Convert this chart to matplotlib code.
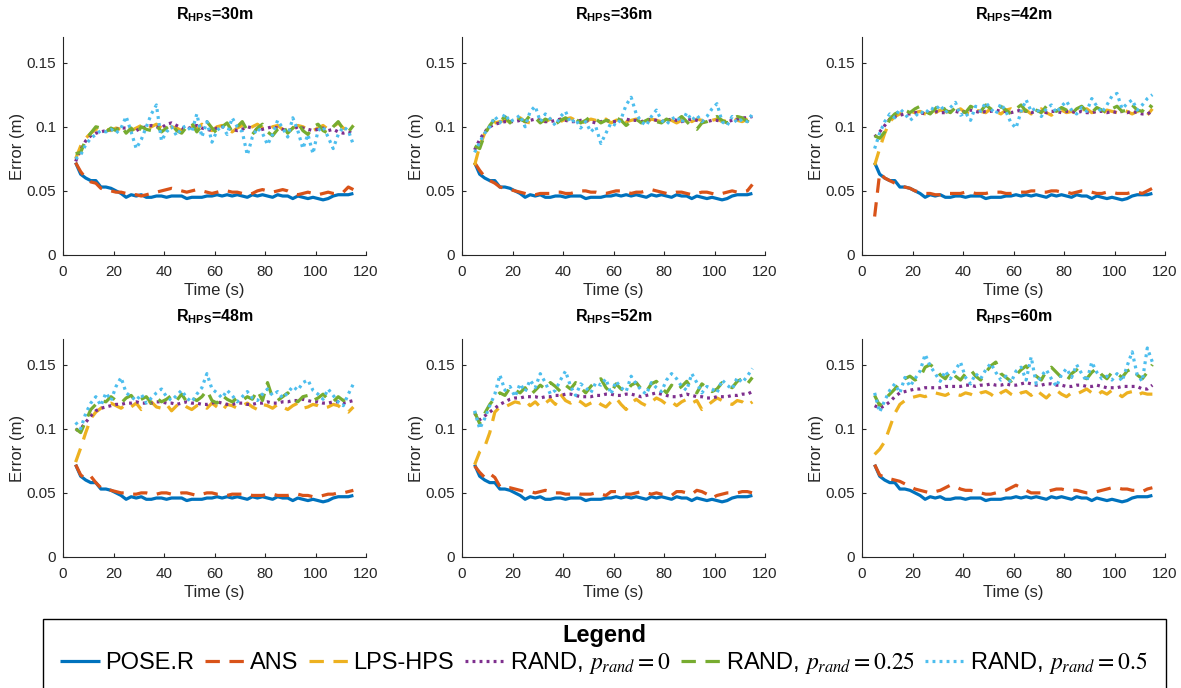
import numpy as np
import matplotlib
matplotlib.use("Agg")
import matplotlib.pyplot as plt
from matplotlib.font_manager import FontProperties
from matplotlib.patches import Rectangle

plt.rcParams["font.family"] = ["Liberation Sans", "DejaVu Sans"]
plt.rcParams["mathtext.fontset"] = "custom"
plt.rcParams["mathtext.bf"] = "Liberation Sans:bold"
plt.rcParams["mathtext.rm"] = "Liberation Sans"

# Sample times (s)
time_s = np.arange(5, 116, 2)

radii = [30, 36, 42, 48, 52, 60]
x_ticks = [0, 20, 40, 60, 80, 100, 120]
y_ticks = [0, 0.05, 0.1, 0.15]
y_tick_labels = ["0", "0.05", "0.1", "0.15"]
series_labels = ["POSE.R", "ANS", "LPS-HPS",
                 r"RAND, $p_{rand}=0$", r"RAND, $p_{rand}=0.25$", r"RAND, $p_{rand}=0.5$"]

# POSE.R error (identical in every scenario)
pose_r = [0.072, 0.063, 0.060, 0.058, 0.058, 0.053, 0.053, 0.052,
          0.050, 0.048, 0.045, 0.047, 0.046, 0.047, 0.045, 0.045,
          0.046, 0.046, 0.045, 0.046, 0.046, 0.046, 0.044, 0.045,
          0.045, 0.045, 0.046, 0.046, 0.047, 0.046, 0.047, 0.046,
          0.047, 0.046, 0.045, 0.047, 0.046, 0.047, 0.046, 0.045,
          0.047, 0.046, 0.046, 0.044, 0.046, 0.045, 0.044, 0.045,
          0.044, 0.043, 0.044, 0.046, 0.047, 0.047, 0.047, 0.048]

# ---- R_HPS = 30 m ----
ans_30 = [0.072, 0.065, 0.060, 0.057, 0.056, 0.052, 0.051, 0.050,
          0.049, 0.049, 0.048, 0.047, 0.047, 0.046, 0.047, 0.048,
          0.049, 0.050, 0.051, 0.052, 0.051, 0.050, 0.049, 0.050,
          0.051, 0.050, 0.049, 0.048, 0.049, 0.050, 0.050, 0.049,
          0.049, 0.048, 0.047, 0.048, 0.050, 0.051, 0.050, 0.049,
          0.050, 0.051, 0.050, 0.048, 0.047, 0.048, 0.049, 0.048,
          0.047, 0.048, 0.049, 0.048, 0.048, 0.049, 0.053, 0.051]
lps_30 = [0.075, 0.085, 0.091, 0.095, 0.098, 0.099, 0.098, 0.097,
          0.099, 0.098, 0.100, 0.097, 0.099, 0.101, 0.098, 0.100,
          0.102, 0.099, 0.098, 0.100, 0.099, 0.097, 0.101, 0.100,
          0.098, 0.102, 0.099, 0.097, 0.100, 0.101, 0.098, 0.096,
          0.099, 0.101, 0.098, 0.100, 0.102, 0.099, 0.097, 0.100,
          0.101, 0.098, 0.096, 0.099, 0.101, 0.100, 0.098, 0.097,
          0.099, 0.101, 0.098, 0.100, 0.103, 0.099, 0.097, 0.101]
rand0_30 = [0.073, 0.082, 0.089, 0.093, 0.095, 0.096, 0.097, 0.098,
            0.098, 0.099, 0.099, 0.098, 0.097, 0.099, 0.100, 0.101,
            0.100, 0.099, 0.102, 0.103, 0.101, 0.099, 0.098, 0.100,
            0.101, 0.099, 0.098, 0.097, 0.099, 0.100, 0.099, 0.098,
            0.097, 0.098, 0.100, 0.099, 0.097, 0.098, 0.099, 0.100,
            0.099, 0.098, 0.097, 0.098, 0.100, 0.099, 0.098, 0.097,
            0.098, 0.099, 0.097, 0.098, 0.096, 0.095, 0.096, 0.095]
rand25_30 = [0.079, 0.080, 0.090, 0.095, 0.100, 0.099, 0.096, 0.099,
             0.097, 0.101, 0.095, 0.099, 0.094, 0.100, 0.098, 0.097,
             0.101, 0.096, 0.099, 0.102, 0.097, 0.095, 0.100, 0.103,
             0.096, 0.101, 0.104, 0.099, 0.095, 0.100, 0.103, 0.096,
             0.100, 0.104, 0.097, 0.094, 0.099, 0.102, 0.096, 0.093,
             0.098, 0.101, 0.095, 0.099, 0.103, 0.097, 0.094, 0.100,
             0.102, 0.097, 0.095, 0.100, 0.104, 0.098, 0.096, 0.101]
rand50_30 = [0.075, 0.078, 0.086, 0.091, 0.094, 0.097, 0.096, 0.098,
             0.095, 0.099, 0.108, 0.096, 0.083, 0.090, 0.100, 0.110,
             0.117, 0.089, 0.096, 0.100, 0.093, 0.099, 0.101, 0.096,
             0.110, 0.092, 0.104, 0.088, 0.097, 0.101, 0.094, 0.107,
             0.100, 0.096, 0.078, 0.092, 0.099, 0.095, 0.086, 0.094,
             0.105, 0.099, 0.092, 0.107, 0.097, 0.083, 0.094, 0.079,
             0.097, 0.100, 0.092, 0.083, 0.094, 0.100, 0.097, 0.086]

# ---- R_HPS = 36 m ----
ans_36 = [0.072, 0.066, 0.061, 0.058, 0.056, 0.053, 0.052, 0.051,
          0.050, 0.049, 0.048, 0.047, 0.047, 0.048, 0.048, 0.048,
          0.049, 0.049, 0.048, 0.048, 0.049, 0.050, 0.050, 0.049,
          0.049, 0.048, 0.048, 0.049, 0.050, 0.050, 0.049, 0.048,
          0.049, 0.049, 0.050, 0.051, 0.050, 0.049, 0.048, 0.048,
          0.049, 0.049, 0.048, 0.047, 0.048, 0.049, 0.049, 0.048,
          0.047, 0.048, 0.049, 0.050, 0.049, 0.049, 0.050, 0.055]
lps_36 = [0.070, 0.085, 0.095, 0.101, 0.103, 0.104, 0.105, 0.104,
          0.105, 0.107, 0.104, 0.103, 0.106, 0.105, 0.104, 0.106,
          0.105, 0.104, 0.106, 0.107, 0.105, 0.103, 0.104, 0.106,
          0.105, 0.104, 0.106, 0.103, 0.105, 0.107, 0.104, 0.105,
          0.106, 0.104, 0.103, 0.106, 0.105, 0.104, 0.106, 0.105,
          0.103, 0.105, 0.107, 0.104, 0.106, 0.105, 0.103, 0.105,
          0.106, 0.104, 0.105, 0.107, 0.105, 0.104, 0.106, 0.108]
rand0_36 = [0.082, 0.090, 0.096, 0.100, 0.102, 0.103, 0.104, 0.104,
            0.104, 0.105, 0.104, 0.105, 0.106, 0.105, 0.104, 0.104,
            0.105, 0.106, 0.105, 0.104, 0.104, 0.105, 0.105, 0.104,
            0.103, 0.104, 0.105, 0.104, 0.104, 0.105, 0.106, 0.105,
            0.105, 0.104, 0.105, 0.106, 0.105, 0.104, 0.105, 0.106,
            0.105, 0.104, 0.105, 0.106, 0.105, 0.104, 0.104, 0.105,
            0.105, 0.104, 0.104, 0.105, 0.106, 0.107, 0.107, 0.108]
rand25_36 = [0.085, 0.083, 0.094, 0.101, 0.106, 0.104, 0.108, 0.103,
             0.108, 0.106, 0.104, 0.109, 0.107, 0.103, 0.106, 0.104,
             0.102, 0.105, 0.107, 0.104, 0.106, 0.103, 0.105, 0.108,
             0.106, 0.103, 0.105, 0.104, 0.107, 0.105, 0.101, 0.104,
             0.106, 0.103, 0.105, 0.107, 0.104, 0.103, 0.106, 0.104,
             0.105, 0.108, 0.104, 0.100, 0.098, 0.103, 0.104, 0.106,
             0.108, 0.105, 0.103, 0.106, 0.108, 0.107, 0.104, 0.112]
rand50_36 = [0.080, 0.088, 0.095, 0.100, 0.108, 0.103, 0.110, 0.104,
             0.106, 0.109, 0.100, 0.112, 0.116, 0.104, 0.110, 0.106,
             0.101, 0.108, 0.112, 0.103, 0.106, 0.099, 0.104, 0.096,
             0.100, 0.087, 0.095, 0.103, 0.101, 0.106, 0.117, 0.123,
             0.110, 0.104, 0.101, 0.108, 0.113, 0.105, 0.102, 0.106,
             0.108, 0.103, 0.111, 0.105, 0.109, 0.104, 0.108, 0.114,
             0.118, 0.104, 0.101, 0.108, 0.103, 0.106, 0.104, 0.110]

# ---- R_HPS = 42 m ----
ans_42 = [0.030, 0.064, 0.060, 0.058, 0.056, 0.054, 0.053, 0.052,
          0.050, 0.049, 0.048, 0.048, 0.047, 0.047, 0.048, 0.048,
          0.048, 0.048, 0.049, 0.049, 0.048, 0.048, 0.048, 0.049,
          0.049, 0.049, 0.048, 0.048, 0.049, 0.049, 0.049, 0.050,
          0.050, 0.049, 0.049, 0.050, 0.050, 0.049, 0.049, 0.048,
          0.049, 0.050, 0.050, 0.049, 0.048, 0.048, 0.049, 0.049,
          0.048, 0.048, 0.048, 0.049, 0.049, 0.048, 0.050, 0.052]
lps_42 = [0.070, 0.083, 0.095, 0.104, 0.108, 0.110, 0.111, 0.112,
          0.111, 0.112, 0.110, 0.109, 0.111, 0.113, 0.112, 0.110,
          0.112, 0.114, 0.111, 0.110, 0.113, 0.112, 0.111, 0.114,
          0.112, 0.110, 0.113, 0.114, 0.111, 0.112, 0.113, 0.110,
          0.112, 0.114, 0.111, 0.109, 0.112, 0.113, 0.111, 0.112,
          0.110, 0.113, 0.114, 0.111, 0.112, 0.110, 0.113, 0.112,
          0.111, 0.113, 0.112, 0.110, 0.112, 0.111, 0.109, 0.114]
rand0_42 = [0.092, 0.096, 0.101, 0.106, 0.108, 0.109, 0.110, 0.110,
            0.111, 0.111, 0.110, 0.111, 0.112, 0.111, 0.111, 0.112,
            0.112, 0.111, 0.112, 0.113, 0.112, 0.111, 0.112, 0.112,
            0.113, 0.112, 0.112, 0.111, 0.112, 0.113, 0.112, 0.111,
            0.112, 0.112, 0.111, 0.112, 0.112, 0.111, 0.112, 0.112,
            0.111, 0.112, 0.111, 0.111, 0.112, 0.112, 0.111, 0.112,
            0.111, 0.112, 0.111, 0.112, 0.111, 0.110, 0.110, 0.112]
rand25_42 = [0.093, 0.091, 0.096, 0.106, 0.110, 0.112, 0.113, 0.111,
             0.114, 0.116, 0.112, 0.110, 0.114, 0.118, 0.113, 0.111,
             0.115, 0.113, 0.111, 0.116, 0.114, 0.112, 0.117, 0.114,
             0.112, 0.116, 0.113, 0.110, 0.114, 0.117, 0.112, 0.115,
             0.113, 0.111, 0.116, 0.114, 0.112, 0.115, 0.113, 0.110,
             0.114, 0.116, 0.112, 0.111, 0.115, 0.113, 0.111, 0.114,
             0.116, 0.112, 0.113, 0.117, 0.113, 0.112, 0.118, 0.115]
rand50_42 = [0.083, 0.095, 0.104, 0.110, 0.107, 0.114, 0.110, 0.105,
             0.108, 0.112, 0.110, 0.115, 0.113, 0.117, 0.111, 0.115,
             0.119, 0.109, 0.111, 0.105, 0.116, 0.112, 0.119, 0.114,
             0.110, 0.118, 0.112, 0.103, 0.099, 0.112, 0.121, 0.112,
             0.115, 0.108, 0.114, 0.117, 0.111, 0.116, 0.120, 0.113,
             0.110, 0.115, 0.112, 0.122, 0.116, 0.111, 0.117, 0.124,
             0.126, 0.114, 0.118, 0.121, 0.113, 0.117, 0.122, 0.125]

# ---- R_HPS = 48 m ----
ans_48 = [0.072, 0.064, 0.061, 0.063, 0.058, 0.054, 0.053, 0.052,
          0.051, 0.050, 0.050, 0.049, 0.049, 0.050, 0.050, 0.049,
          0.049, 0.050, 0.050, 0.049, 0.049, 0.050, 0.050, 0.049,
          0.048, 0.049, 0.050, 0.050, 0.049, 0.049, 0.048, 0.049,
          0.049, 0.049, 0.049, 0.048, 0.048, 0.048, 0.049, 0.049,
          0.048, 0.048, 0.048, 0.049, 0.049, 0.048, 0.048, 0.047,
          0.047, 0.048, 0.049, 0.049, 0.050, 0.050, 0.051, 0.052]
lps_48 = [0.074, 0.085, 0.097, 0.108, 0.113, 0.116, 0.119, 0.120,
          0.118, 0.116, 0.119, 0.117, 0.120, 0.115, 0.118, 0.121,
          0.117, 0.116, 0.119, 0.114, 0.118, 0.120, 0.117, 0.115,
          0.118, 0.119, 0.116, 0.120, 0.117, 0.114, 0.119, 0.118,
          0.116, 0.118, 0.120, 0.117, 0.115, 0.119, 0.118, 0.116,
          0.119, 0.117, 0.115, 0.118, 0.120, 0.116, 0.117, 0.119,
          0.118, 0.116, 0.117, 0.119, 0.118, 0.115, 0.113, 0.117]
rand0_48 = [0.099, 0.100, 0.105, 0.110, 0.114, 0.116, 0.117, 0.118,
            0.119, 0.119, 0.120, 0.120, 0.121, 0.120, 0.120, 0.120,
            0.121, 0.121, 0.120, 0.120, 0.119, 0.120, 0.121, 0.120,
            0.120, 0.119, 0.119, 0.120, 0.121, 0.120, 0.119, 0.119,
            0.120, 0.120, 0.119, 0.119, 0.120, 0.120, 0.121, 0.120,
            0.120, 0.121, 0.121, 0.122, 0.122, 0.123, 0.122, 0.121,
            0.121, 0.120, 0.120, 0.121, 0.121, 0.120, 0.121, 0.122]
rand25_48 = [0.100, 0.097, 0.106, 0.115, 0.119, 0.122, 0.121, 0.125,
             0.122, 0.120, 0.124, 0.126, 0.121, 0.123, 0.125, 0.120,
             0.124, 0.121, 0.123, 0.126, 0.122, 0.127, 0.121, 0.124,
             0.122, 0.125, 0.130, 0.122, 0.120, 0.126, 0.123, 0.121,
             0.124, 0.122, 0.125, 0.123, 0.130, 0.122, 0.136, 0.124,
             0.122, 0.125, 0.128, 0.123, 0.121, 0.125, 0.126, 0.122,
             0.124, 0.127, 0.123, 0.121, 0.125, 0.122, 0.124, 0.126]
rand50_48 = [0.105, 0.100, 0.112, 0.120, 0.125, 0.118, 0.128, 0.122,
             0.133, 0.140, 0.128, 0.125, 0.122, 0.127, 0.120, 0.124,
             0.128, 0.131, 0.125, 0.122, 0.126, 0.130, 0.124, 0.121,
             0.127, 0.132, 0.143, 0.131, 0.128, 0.124, 0.130, 0.126,
             0.121, 0.125, 0.129, 0.124, 0.122, 0.127, 0.131, 0.126,
             0.129, 0.124, 0.128, 0.133, 0.130, 0.136, 0.138, 0.130,
             0.127, 0.123, 0.131, 0.126, 0.121, 0.118, 0.127, 0.135]

# ---- R_HPS = 52 m ----
ans_52 = [0.071, 0.066, 0.062, 0.065, 0.062, 0.055, 0.054, 0.054,
          0.053, 0.052, 0.051, 0.051, 0.050, 0.051, 0.052, 0.051,
          0.050, 0.050, 0.049, 0.049, 0.050, 0.049, 0.049, 0.049,
          0.050, 0.049, 0.048, 0.051, 0.051, 0.050, 0.049, 0.049,
          0.050, 0.051, 0.050, 0.049, 0.050, 0.049, 0.049, 0.048,
          0.051, 0.051, 0.050, 0.049, 0.052, 0.051, 0.049, 0.046,
          0.048, 0.049, 0.050, 0.050, 0.050, 0.051, 0.051, 0.050]
lps_52 = [0.072, 0.082, 0.086, 0.097, 0.113, 0.117, 0.117, 0.119,
          0.121, 0.120, 0.122, 0.118, 0.121, 0.117, 0.120, 0.123,
          0.119, 0.127, 0.122, 0.120, 0.123, 0.121, 0.118, 0.120,
          0.122, 0.119, 0.117, 0.121, 0.124, 0.119, 0.115, 0.120,
          0.123, 0.120, 0.118, 0.121, 0.124, 0.122, 0.119, 0.121,
          0.118, 0.121, 0.123, 0.120, 0.122, 0.115, 0.118, 0.121,
          0.124, 0.122, 0.120, 0.119, 0.122, 0.121, 0.118, 0.121]
rand0_52 = [0.112, 0.107, 0.110, 0.113, 0.116, 0.119, 0.121, 0.123,
            0.124, 0.124, 0.125, 0.125, 0.125, 0.124, 0.125, 0.125,
            0.126, 0.126, 0.127, 0.127, 0.126, 0.125, 0.125, 0.125,
            0.126, 0.126, 0.127, 0.127, 0.126, 0.126, 0.127, 0.127,
            0.126, 0.125, 0.126, 0.127, 0.128, 0.127, 0.126, 0.125,
            0.125, 0.126, 0.127, 0.126, 0.125, 0.125, 0.124, 0.124,
            0.125, 0.125, 0.125, 0.126, 0.126, 0.127, 0.127, 0.129]
rand25_52 = [0.113, 0.104, 0.112, 0.119, 0.124, 0.128, 0.126, 0.132,
             0.130, 0.128, 0.132, 0.126, 0.130, 0.134, 0.131, 0.136,
             0.133, 0.129, 0.134, 0.131, 0.136, 0.132, 0.128, 0.133,
             0.137, 0.139, 0.132, 0.128, 0.135, 0.131, 0.129, 0.134,
             0.136, 0.131, 0.129, 0.135, 0.137, 0.132, 0.128, 0.134,
             0.130, 0.133, 0.137, 0.131, 0.128, 0.135, 0.132, 0.129,
             0.131, 0.136, 0.134, 0.132, 0.137, 0.139, 0.135, 0.140]
rand50_52 = [0.114, 0.100, 0.108, 0.118, 0.127, 0.142, 0.130, 0.133,
             0.125, 0.135, 0.129, 0.138, 0.132, 0.143, 0.136, 0.127,
             0.130, 0.138, 0.145, 0.133, 0.126, 0.135, 0.132, 0.128,
             0.136, 0.134, 0.139, 0.127, 0.137, 0.132, 0.129, 0.141,
             0.135, 0.130, 0.127, 0.136, 0.132, 0.129, 0.138, 0.143,
             0.139, 0.133, 0.130, 0.143, 0.136, 0.128, 0.133, 0.131,
             0.128, 0.138, 0.134, 0.131, 0.140, 0.136, 0.141, 0.147]

# ---- R_HPS = 60 m ----
ans_60 = [0.072, 0.064, 0.062, 0.061, 0.060, 0.059, 0.057, 0.055,
          0.053, 0.052, 0.051, 0.050, 0.051, 0.052, 0.054, 0.056,
          0.055, 0.053, 0.052, 0.052, 0.051, 0.050, 0.049, 0.049,
          0.050, 0.051, 0.052, 0.054, 0.056, 0.054, 0.052, 0.050,
          0.050, 0.050, 0.051, 0.052, 0.053, 0.053, 0.052, 0.052,
          0.052, 0.051, 0.050, 0.050, 0.051, 0.052, 0.053, 0.054,
          0.054, 0.053, 0.053, 0.052, 0.052, 0.051, 0.053, 0.054]
lps_60 = [0.080, 0.084, 0.090, 0.101, 0.112, 0.119, 0.122, 0.124,
          0.125, 0.126, 0.125, 0.127, 0.128, 0.127, 0.126, 0.128,
          0.127, 0.126, 0.128, 0.127, 0.125, 0.128, 0.129, 0.127,
          0.124, 0.128, 0.130, 0.127, 0.125, 0.128, 0.129, 0.126,
          0.130, 0.127, 0.124, 0.128, 0.130, 0.127, 0.125, 0.128,
          0.127, 0.129, 0.131, 0.128, 0.126, 0.129, 0.127, 0.130,
          0.128, 0.125, 0.128, 0.129, 0.126, 0.128, 0.127, 0.127]
rand0_60 = [0.118, 0.116, 0.118, 0.121, 0.125, 0.128, 0.129, 0.130,
            0.131, 0.131, 0.132, 0.132, 0.132, 0.132, 0.133, 0.133,
            0.133, 0.133, 0.134, 0.134, 0.133, 0.134, 0.134, 0.135,
            0.134, 0.134, 0.135, 0.134, 0.134, 0.135, 0.136, 0.135,
            0.134, 0.134, 0.135, 0.135, 0.134, 0.134, 0.133, 0.133,
            0.134, 0.134, 0.133, 0.133, 0.134, 0.133, 0.132, 0.132,
            0.132, 0.133, 0.133, 0.133, 0.133, 0.131, 0.131, 0.134]
rand25_60 = [0.126, 0.118, 0.123, 0.127, 0.131, 0.136, 0.139, 0.141,
             0.138, 0.140, 0.148, 0.150, 0.147, 0.142, 0.139, 0.145,
             0.141, 0.138, 0.143, 0.146, 0.141, 0.138, 0.144, 0.149,
             0.152, 0.143, 0.140, 0.137, 0.142, 0.146, 0.149, 0.144,
             0.141, 0.138, 0.145, 0.148, 0.144, 0.140, 0.137, 0.143,
             0.146, 0.141, 0.139, 0.144, 0.147, 0.142, 0.139, 0.144,
             0.143, 0.140, 0.145, 0.147, 0.142, 0.139, 0.144, 0.150]
rand50_60 = [0.128, 0.113, 0.122, 0.130, 0.135, 0.128, 0.140, 0.133,
             0.139, 0.145, 0.158, 0.149, 0.143, 0.137, 0.145, 0.139,
             0.146, 0.152, 0.140, 0.135, 0.143, 0.139, 0.146, 0.151,
             0.144, 0.138, 0.141, 0.136, 0.145, 0.148, 0.138, 0.156,
             0.135, 0.141, 0.146, 0.139, 0.133, 0.142, 0.147, 0.140,
             0.150, 0.143, 0.137, 0.152, 0.144, 0.139, 0.141, 0.138,
             0.143, 0.137, 0.149, 0.160, 0.142, 0.137, 0.163, 0.152]

panels = {
    30: [pose_r, ans_30, lps_30, rand0_30, rand25_30, rand50_30],
    36: [pose_r, ans_36, lps_36, rand0_36, rand25_36, rand50_36],
    42: [pose_r, ans_42, lps_42, rand0_42, rand25_42, rand50_42],
    48: [pose_r, ans_48, lps_48, rand0_48, rand25_48, rand50_48],
    52: [pose_r, ans_52, lps_52, rand0_52, rand25_52, rand50_52],
    60: [pose_r, ans_60, lps_60, rand0_60, rand25_60, rand50_60],
}

# MATLAB-like line styles
styles = [
    dict(color="#0072BD", lw=2.3, ls="-"),
    dict(color="#D95319", lw=2.3, dashes=(4.5, 3)),
    dict(color="#EDB120", lw=2.3, dashes=(4.5, 3)),
    dict(color="#7E2F8E", lw=2.3, dashes=(0.9, 1.3)),
    dict(color="#77AC30", lw=2.3, dashes=(4.5, 3)),
    dict(color="#4DBEEE", lw=2.3, dashes=(0.9, 1.3)),
]

W, H = 1181, 688
fig = plt.figure(figsize=(W / 100, H / 100), dpi=100)

col_left = [63, 462, 862]
row_top = [37, 339]
ax_w, ax_h = 303, 218
axis_gray = "#262626"

handles = None
for i, r in enumerate(radii):
    row, col = divmod(i, 3)
    left = col_left[col] / W
    bottom = 1 - (row_top[row] + ax_h) / H
    ax = fig.add_axes([left, bottom, ax_w / W, ax_h / H])
    lines = []
    for data, st in zip(panels[r], styles):
        ln, = ax.plot(time_s, data, solid_capstyle="butt", dash_capstyle="butt", **st)
        lines.append(ln)
    if handles is None:
        handles = lines
    ax.set_xlim(0, 120)
    ax.set_ylim(0, 0.17)
    ax.set_xticks(x_ticks)
    ax.set_yticks(y_ticks)
    ax.set_yticklabels(y_tick_labels)
    for s in ("top", "right"):
        ax.spines[s].set_visible(False)
    for s in ("left", "bottom"):
        ax.spines[s].set_color(axis_gray)
        ax.spines[s].set_linewidth(0.8)
    ax.tick_params(direction="in", length=3, width=0.8, colors=axis_gray,
                   labelsize=11, pad=5)
    ax.tick_params(axis="x", pad=7)
    ax.set_xlabel("Time (s)", fontsize=12, color=axis_gray, labelpad=3)
    ax.set_ylabel("Error (m)", fontsize=12, color=axis_gray, labelpad=1)
    ax.set_title(r"$\mathbf{R_{HPS}}$" + f"={r}m", fontsize=11.5,
                 fontweight="bold", color="black", pad=13)

# Legend in an open-bottom box under the grid
box_left, box_right, box_top = 43, 1166, 619
fig.add_artist(Rectangle((box_left / W, -0.05), (box_right - box_left) / W,
                         1 - box_top / H + 0.05, transform=fig.transFigure,
                         fill=False, edgecolor="black", lw=1.0))

leg_prop = FontProperties(family=["Liberation Sans Narrow", "Liberation Sans"],
                          size=17, math_fontfamily="stix")
title_prop = FontProperties(family=["Liberation Sans Narrow", "Liberation Sans"],
                            size=17, weight="bold")
leg = fig.legend(handles, series_labels, loc="center",
                 bbox_to_anchor=(604 / W, 1 - 650 / H), ncol=6, frameon=False,
                 prop=leg_prop, title="Legend", title_fontproperties=title_prop,
                 handlelength=1.7, handletextpad=0.2, columnspacing=0.45,
                 borderpad=0, borderaxespad=0, labelspacing=0)
leg._legend_box.sep = 2

fig.savefig("out.png", dpi=100)
